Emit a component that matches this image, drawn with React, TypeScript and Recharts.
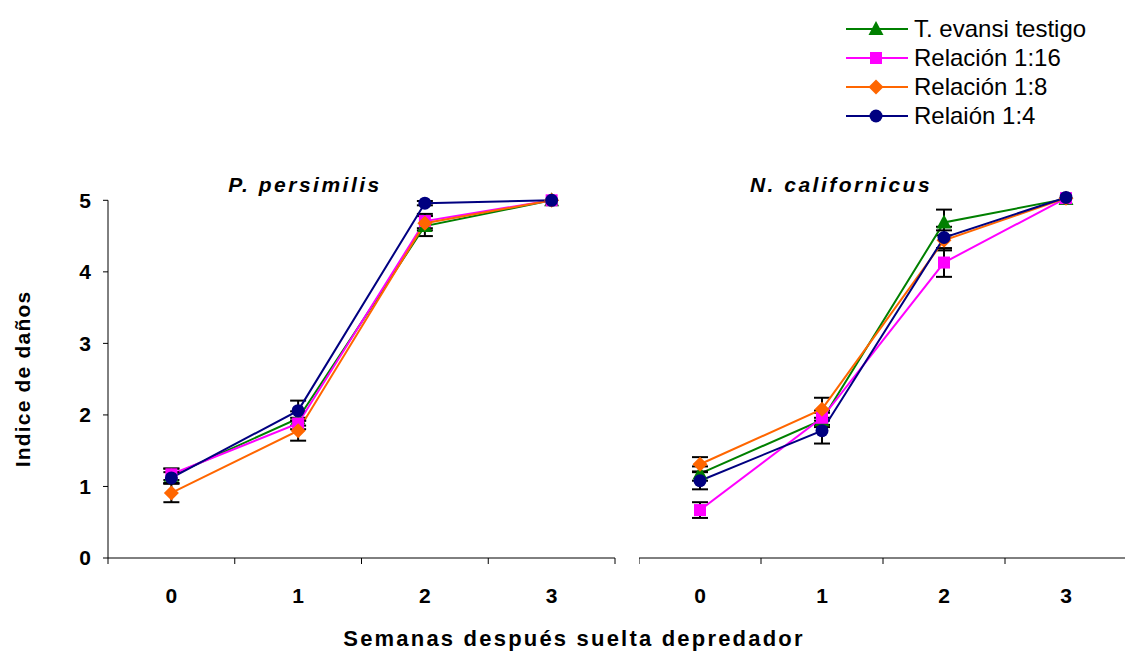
import React from 'react'
import { LineChart, Line, XAxis, YAxis, ErrorBar, ReferenceLine } from 'recharts'

const FONT = '"Liberation Sans", Arial, sans-serif'

const weeks = [0, 1, 2, 3]

const seriesNames = ['T. evansi testigo', 'Relación 1:16', 'Relación 1:8', 'Relaión 1:4']
const seriesKeys = ['testigo', 'r16', 'r8', 'r4']
const seriesColors = ['#008000', '#FF00FF', '#FF6600', '#000080']
const seriesShapes = ['triangle', 'square', 'diamond', 'circle']

// P. persimilis
const persTestigo = [1.15, 1.95, 4.64, 5.0]
const persR16 = [1.17, 1.88, 4.71, 5.0]
const persR8 = [0.91, 1.78, 4.68, 5.0]
const persR4 = [1.12, 2.06, 4.96, 5.0]
const persTestigoErr = [0.1, 0.1, 0.14, 0]
const persR16Err = [0.08, 0.08, 0.1, 0]
const persR8Err = [0.13, 0.14, 0.1, 0]
const persR4Err = [0.08, 0.14, 0.03, 0]

// N. californicus
const califTestigo = [1.18, 1.93, 4.69, 5.02]
const califR16 = [0.67, 1.96, 4.13, 5.03]
const califR8 = [1.31, 2.08, 4.44, 5.03]
const califR4 = [1.08, 1.78, 4.48, 5.04]
const califTestigoErr = [0.1, 0.1, 0.18, 0]
const califR16Err = [0.11, 0.1, 0.2, 0]
const califR8Err = [0.1, 0.16, 0.14, 0]
const califR4Err = [0.12, 0.18, 0.15, 0]

function buildRows(values: number[][], errors: number[][]) {
  return weeks.map((w, i) => {
    const row: Record<string, number> = { week: w }
    seriesKeys.forEach((k, s) => {
      row[k] = values[s][i]
      row[k + 'Err'] = errors[s][i]
    })
    return row
  })
}

const persRows = buildRows(
  [persTestigo, persR16, persR8, persR4],
  [persTestigoErr, persR16Err, persR8Err, persR4Err]
)
const califRows = buildRows(
  [califTestigo, califR16, califR8, califR4],
  [califTestigoErr, califR16Err, califR8Err, califR4Err]
)

function Marker({ cx, cy, shape, color }: { cx?: number; cy?: number; shape: string; color: string }) {
  if (cx == null || cy == null) return null
  if (shape === 'triangle')
    return <polygon points={`${cx},${cy - 8} ${cx + 7.5},${cy + 6} ${cx - 7.5},${cy + 6}`} fill={color} />
  if (shape === 'square') return <rect x={cx - 6} y={cy - 6} width={12} height={12} fill={color} />
  if (shape === 'diamond')
    return <polygon points={`${cx},${cy - 7.5} ${cx + 7.5},${cy} ${cx},${cy + 7.5} ${cx - 7.5},${cy}`} fill={color} />
  return <circle cx={cx} cy={cy} r={6.5} fill={color} />
}

const tickStyle = { fill: '#000', fontSize: 21, fontWeight: 700, fontFamily: FONT }

function Panel({ rows, showY, left, width, right }: { rows: any[]; showY: boolean; left: number; width: number; right: number }) {
  return (
    <div style={{ position: 'absolute', left, top: 0 }}>
      <LineChart width={width} height={651} data={rows} margin={{ top: 186, right, bottom: 43, left: 0 }}>
        <XAxis
          dataKey="week"
          type="number"
          domain={[-0.5, 3.5]}
          ticks={[-0.5, 0.5, 1.5, 2.5, 3.5]}
          tickFormatter={() => ''}
          height={20}
          tickSize={6}
          stroke="#000"
        />
        <XAxis
          xAxisId="lbl"
          dataKey="week"
          type="number"
          domain={[-0.5, 3.5]}
          ticks={weeks}
          axisLine={false}
          tickLine={false}
          height={30}
          tickSize={0}
          tickMargin={10}
          tick={tickStyle}
        />
        <YAxis
          hide={!showY}
          width={108}
          domain={[0, 5.2]}
          ticks={[0, 1, 2, 3, 4, 5]}
          axisLine={false}
          tickSize={5}
          tickMargin={12}
          stroke="#000"
          tick={tickStyle}
        />
        {showY && <ReferenceLine segment={[{ x: -0.5, y: 0 }, { x: -0.5, y: 5 }]} stroke="#000" />}
        {seriesKeys.map((k, s) => (
          <Line
            key={k}
            dataKey={k}
            stroke={seriesColors[s]}
            strokeWidth={2}
            isAnimationActive={false}
            dot={(p: any) => (
              <Marker key={`${k}-${p.index}`} cx={p.cx} cy={p.cy} shape={seriesShapes[s]} color={seriesColors[s]} />
            )}
            activeDot={false}
          >
            <ErrorBar dataKey={k + 'Err'} width={8} stroke="#000" strokeWidth={2} />
          </Line>
        ))}
      </LineChart>
    </div>
  )
}

function Legend() {
  return (
    <div style={{ position: 'absolute', left: 844, top: 14 }}>
      {seriesNames.map((name, s) => (
        <div key={name} style={{ display: 'flex', alignItems: 'center', height: 29 }}>
          <svg width={66} height={20}>
            <line x1={2} y1={10} x2={64} y2={10} stroke={seriesColors[s]} strokeWidth={2} />
            <Marker cx={32} cy={10} shape={seriesShapes[s]} color={seriesColors[s]} />
          </svg>
          <span style={{ fontFamily: FONT, fontSize: 24, color: '#000', marginLeft: 4, whiteSpace: 'nowrap' }}>{name}</span>
        </div>
      ))}
    </div>
  )
}

const titleStyle: React.CSSProperties = {
  position: 'absolute',
  fontFamily: FONT,
  fontSize: 21,
  fontWeight: 700,
  fontStyle: 'italic',
  letterSpacing: 2.5,
  whiteSpace: 'nowrap',
  transform: 'translate(-50%, -50%)',
}

export default function App() {
  return (
    <div style={{ position: 'absolute', left: 0, top: 0, width: 1125, height: 651, overflow: 'hidden', background: '#fff' }}>
      <Legend />
      <Panel rows={persRows} showY left={0} width={620} right={5} />
      <Panel rows={califRows} showY={false} left={639} width={490} right={2} />
      <div style={{ ...titleStyle, left: 305, top: 185 }}>P. persimilis</div>
      <div style={{ ...titleStyle, left: 841, top: 185 }}>N. californicus</div>
      <div
        style={{
          position: 'absolute',
          left: 23,
          top: 379,
          transform: 'translate(-50%, -50%) rotate(-90deg)',
          fontFamily: FONT,
          fontSize: 21,
          fontWeight: 700,
          letterSpacing: 1.2,
          whiteSpace: 'nowrap',
        }}
      >
        Indice de daños
      </div>
      <div
        style={{
          position: 'absolute',
          left: 574,
          top: 639,
          transform: 'translate(-50%, -50%)',
          fontFamily: FONT,
          fontSize: 22,
          fontWeight: 700,
          letterSpacing: 2.2,
          whiteSpace: 'nowrap',
        }}
      >
        Semanas después suelta depredador
      </div>
    </div>
  )
}
